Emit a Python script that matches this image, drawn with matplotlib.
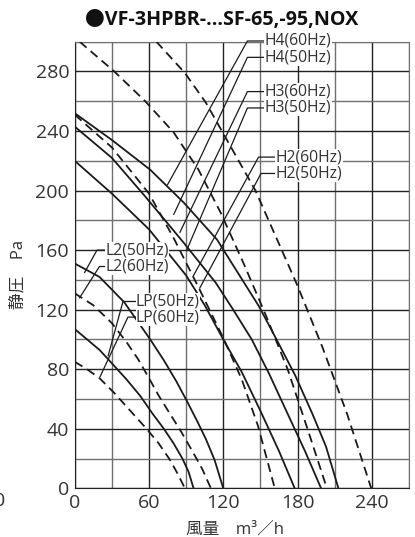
import matplotlib
matplotlib.use('Agg')
import matplotlib.pyplot as plt

plt.rcParams['font.family'] = ['Open Sans', 'Noto Sans CJK JP', 'DejaVu Sans']

# 風量 (m3/h) / 静圧 (Pa)
lp50_x = [0, 10, 20, 30, 42, 53, 63, 72, 80, 87, 92, 96]
lp50_y = [107, 100, 93, 84, 73, 62, 50, 40, 30, 20, 11, 0]
lp60_x = [0, 10, 20, 32, 45, 58, 68, 77, 83, 89]
lp60_y = [85, 80, 74, 64, 52, 40, 30, 19, 10, 0]
l250_x = [0, 20, 40, 61, 72, 82, 91, 99, 106, 113, 120]
l250_y = [151, 142, 125, 100, 86, 72, 58, 45, 33, 19, 0]
l260_x = [0, 15, 30, 42, 51, 60, 68, 77, 86, 95, 103, 110]
l260_y = [131, 123, 111, 98, 87, 74, 62, 50, 38, 25, 13, 0]
h250_x = [0, 30, 60, 90, 105, 120, 135, 150, 165, 177.7]
h250_y = [220, 198, 174, 143, 123, 100, 78, 52, 25, 0]
h260_x = [0, 30, 60, 80, 100, 120, 135, 148, 161.6]
h260_y = [251, 229, 198, 168, 135, 101, 73, 42, 0]
h350_x = [0, 30, 57, 88, 114, 128, 143, 157, 172, 186, 199]
h350_y = [243, 222, 196, 165, 138, 120, 100, 77, 50, 25, 0]
h360_x = [4, 32, 57, 80, 100, 118, 137, 155, 172, 188, 203.7]
h360_y = [300, 280, 260, 239, 214, 185, 150, 115, 80, 40, 0]
h450_x = [0, 30, 61, 88, 115, 149, 163, 178, 192, 203, 213]
h450_y = [252, 234, 214, 192, 167, 122, 100, 76, 50, 28, 0]
h460_x = [66, 89, 106, 125, 146, 163, 180, 200, 220, 239.5]
h460_y = [300, 279, 259, 231, 200, 168, 136, 95, 50, 0]

solid = [(lp50_x, lp50_y), (l250_x, l250_y), (h250_x, h250_y),
         (h350_x, h350_y), (h450_x, h450_y)]
dashed = [(lp60_x, lp60_y), (l260_x, l260_y), (h260_x, h260_y),
          (h360_x, h360_y), (h460_x, h460_y)]

# label text, text position, knee, end of leader
labels = ['H4(60Hz)', 'H4(50Hz)', 'H3(60Hz)', 'H3(50Hz)', 'H2(60Hz)', 'H2(50Hz)',
          'L2(50Hz)', 'L2(60Hz)', 'LP(50Hz)', 'LP(60Hz)']
lab_pos = [(153.5, 300.5), (153.5, 289.5), (153.5, 266.5), (153.5, 255.5),
           (162.5, 222.5), (162.5, 211.5), (24.5, 160), (24.5, 149),
           (49.5, 125.5), (49.5, 115)]
knee = [(139.5, 300.5), (139.5, 289.5), (139.5, 266.5), (139.5, 255.5),
        (148.5, 222.5), (150.5, 211.5), (18, 160), (20, 149),
        (39, 125.5), (43, 115)]
leader_end = [(75, 204), (80, 184), (85, 172), (90.5, 160),
              (96, 143), (101, 134.5), (8, 145), (4, 128),
              (27, 89), (20.5, 75)]

xticks = [0, 60, 120, 180, 240]
yticks = [0, 40, 80, 120, 160, 200, 240, 280]

fig = plt.figure(figsize=(4.15, 5.37), dpi=100)
ax = fig.add_axes([0.18, 0.0907, 0.8055, 0.8316])

for v in range(0, 271, 30):
    ax.axvline(v, color='#222222' if v % 60 == 0 else '#707070', lw=1.0, zorder=1)
for v in range(0, 301, 20):
    ax.axhline(v, color='#222222' if v % 40 == 0 else '#707070', lw=1.0, zorder=1)

for x, y in solid:
    ax.plot(x, y, color='#1a1a1a', lw=1.3, zorder=3)
for x, y in dashed:
    ax.plot(x, y, color='#1a1a1a', lw=1.3, dashes=(5, 3), zorder=3)

for t, p, k, e in zip(labels, lab_pos, knee, leader_end):
    ax.plot([p[0], k[0], e[0]], [p[1], k[1], e[1]], color='#1a1a1a', lw=0.9,
            zorder=4, clip_on=False)
    ax.text(p[0], p[1], t, fontsize=11.3, va='center', ha='left', zorder=5,
            color='#333333',
            bbox=dict(facecolor='white', edgecolor='none', pad=0.3), clip_on=False)

ax.set_xlim(0, 270)
ax.set_ylim(0, 300)
ax.set_xticks(xticks)
ax.set_yticks(yticks)
ax.tick_params(length=0, labelsize=14, colors='#333333', pad=4)
for s in ax.spines.values():
    s.set_color('#707070')
ax.spines['left'].set_color('#222222')
ax.spines['bottom'].set_color('#222222')

ax.set_xlabel('風量　m³／h', fontsize=12, color='#333333')
ax.xaxis.set_label_coords(0.48, -0.075)
ax.set_ylabel('静圧　Pa', fontsize=12, color='#333333')
ax.yaxis.set_label_coords(-0.143, 0.48)
fig.text(0.533, 0.963, '●VF-3HPBR-...SF-65,-95,NOX', fontsize=14.2, weight='bold',
         ha='center', va='center', color='#111111')
fig.text(0.0, 0.067, '0', fontsize=14, ha='center', va='center', color='#333333')

fig.savefig('out.png', dpi=100)
